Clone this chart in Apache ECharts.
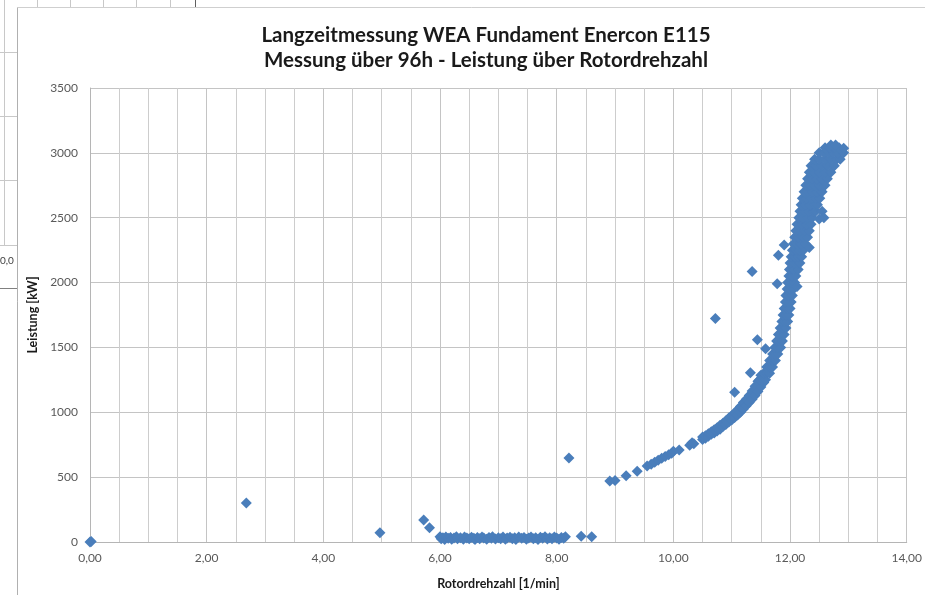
<!DOCTYPE html>
<html>
<head>
<meta charset="utf-8">
<script src="https://cdn.jsdelivr.net/npm/echarts@6/dist/echarts.min.js"></script>
<style>
  html, body { margin: 0; padding: 0; background: #fff; }
  #chart { width: 925px; height: 595px; }
</style>
</head>
<body>
<div id="chart"></div>
<script>
// Rotordrehzahl [1/min], Leistung [kW]
const standstill = [[0, 0], [0.02, 4]];

const idleBand = [
  [6.00, 40], [6.02, 25], [6.05, 32], [6.08, 20], [6.10, 38], [6.14, 28], [6.18, 35], [6.20, 22],
  [6.24, 30], [6.28, 40], [6.30, 25], [6.35, 33], [6.40, 22], [6.42, 38], [6.46, 30], [6.50, 25],
  [6.54, 36], [6.58, 28], [6.60, 20], [6.64, 34], [6.68, 26], [6.72, 38], [6.75, 30], [6.80, 22],
  [6.84, 35], [6.88, 28], [6.90, 40], [6.95, 24], [7.00, 32], [7.04, 26], [7.08, 38], [7.12, 22],
  [7.15, 30], [7.20, 36], [7.24, 25], [7.28, 33], [7.30, 20], [7.35, 38], [7.40, 28], [7.44, 34],
  [7.48, 22], [7.52, 30], [7.56, 38], [7.60, 25], [7.64, 32], [7.68, 20], [7.72, 36], [7.76, 28],
  [7.80, 40], [7.84, 24], [7.88, 32], [7.92, 26], [7.96, 38], [8.00, 30], [8.04, 22], [8.08, 35],
  [8.12, 28], [8.15, 40]
];

const rampUp = [
  [8.91, 470], [9.00, 475], [9.19, 510], [9.38, 545], [9.55, 585], [9.62, 600], [9.68, 615],
  [9.74, 630], [9.80, 645], [9.86, 660], [9.92, 672], [9.97, 685], [10.00, 700], [10.10, 710],
  [10.28, 745], [10.32, 765], [10.35, 758], [10.50, 790], [10.50, 810], [10.55, 800], [10.55, 820],
  [10.60, 815], [10.60, 835], [10.65, 830], [10.65, 850], [10.70, 840], [10.70, 865], [10.75, 855],
  [10.75, 880], [10.80, 870], [10.80, 900], [10.85, 890], [10.85, 915], [10.90, 905], [10.90, 935],
  [10.95, 925], [10.95, 955], [11.00, 940], [11.00, 975], [11.05, 960], [11.05, 995], [11.10, 980],
  [11.10, 1020], [11.15, 1000], [11.15, 1045], [11.20, 1025], [11.20, 1075], [11.25, 1050],
  [11.25, 1100], [11.30, 1075], [11.30, 1130], [11.35, 1100], [11.35, 1165], [11.40, 1130],
  [11.40, 1200], [11.45, 1160], [11.45, 1240], [11.50, 1195], [11.50, 1285], [11.55, 1230]
];

const steepRise = [
  [11.48, 1250], [11.53, 1250], [11.58, 1250],
  [11.55, 1300], [11.60, 1300], [11.65, 1300],
  [11.60, 1350], [11.65, 1350], [11.70, 1350],
  [11.65, 1400], [11.70, 1400], [11.75, 1400],
  [11.70, 1450], [11.74, 1450], [11.79, 1450],
  [11.74, 1500], [11.79, 1500], [11.84, 1500],
  [11.77, 1550], [11.82, 1550], [11.87, 1550],
  [11.80, 1600], [11.85, 1600], [11.90, 1600],
  [11.83, 1650], [11.88, 1650], [11.93, 1650],
  [11.86, 1700], [11.91, 1700], [11.96, 1700],
  [11.88, 1750], [11.93, 1750], [11.98, 1750],
  [11.90, 1800], [11.95, 1800], [12.00, 1800],
  [11.92, 1850], [11.97, 1850], [12.02, 1850],
  [11.93, 1900], [11.98, 1900], [12.04, 1900],
  [11.95, 1950], [12.00, 1950], [12.06, 1950],
  [11.96, 2000], [12.02, 2000], [12.08, 2000],
  [11.98, 2050], [12.04, 2050], [12.10, 2050],
  [11.99, 2100], [12.06, 2100], [12.14, 2100],
  [12.00, 2150], [12.07, 2150], [12.14, 2150], [12.17, 2150],
  [12.02, 2200], [12.08, 2200], [12.14, 2200], [12.20, 2200]
];

const fullLoad = [
  [12.04, 2250], [12.10, 2250], [12.16, 2250], [12.23, 2250],
  [12.06, 2300], [12.12, 2300], [12.19, 2300], [12.26, 2300],
  [12.08, 2350], [12.14, 2350], [12.22, 2350], [12.30, 2350],
  [12.10, 2400], [12.17, 2400], [12.25, 2400], [12.33, 2400],
  [12.12, 2450], [12.20, 2450], [12.28, 2450], [12.36, 2450],
  [12.15, 2500], [12.22, 2500], [12.30, 2500], [12.38, 2500],
  [12.17, 2550], [12.24, 2550], [12.32, 2550], [12.40, 2550], [12.44, 2550],
  [12.19, 2600], [12.26, 2600], [12.34, 2600], [12.42, 2600], [12.47, 2600],
  [12.21, 2650], [12.28, 2650], [12.36, 2650], [12.44, 2650], [12.51, 2650],
  [12.24, 2700], [12.30, 2700], [12.38, 2700], [12.46, 2700], [12.55, 2700],
  [12.27, 2750], [12.34, 2750], [12.42, 2750], [12.50, 2750], [12.60, 2750],
  [12.30, 2800], [12.38, 2800], [12.46, 2800], [12.55, 2800], [12.64, 2800],
  [12.33, 2850], [12.41, 2850], [12.50, 2850], [12.60, 2850], [12.70, 2850],
  [12.36, 2900], [12.44, 2900], [12.54, 2900], [12.64, 2900], [12.76, 2900],
  [12.42, 2950], [12.50, 2950], [12.60, 2950], [12.70, 2950], [12.80, 2950], [12.86, 2950],
  [12.50, 3000], [12.58, 3000], [12.66, 3000], [12.74, 3000], [12.82, 3000], [12.92, 3000],
  [12.60, 3040], [12.68, 3040], [12.76, 3040], [12.84, 3040], [12.92, 3035],
  [12.70, 3060], [12.78, 3060]
];

const outliers = [
  [2.68, 300], [4.97, 72], [5.72, 170], [5.82, 110], [8.21, 648], [8.42, 45], [8.60, 40],
  [10.72, 1723], [11.35, 2085], [11.05, 1155], [11.32, 1305], [11.44, 1560], [11.58, 1490],
  [11.78, 1990], [11.80, 2210], [11.90, 2290], [12.12, 1970], [12.33, 2270],
  [12.50, 2490], [12.55, 2550], [12.58, 2500]
];

const titleLines = [
  'Langzeitmessung WEA Fundament Enercon E115',
  'Messung über 96h - Leistung über Rotordrehzahl'
];

const fmtComma = (v) => v.toFixed(2).replace('.', ',');

const chart = echarts.init(document.getElementById('chart'));

// Tabellenreste links neben dem Diagramm
const sheetLine = (x1, y1, x2, y2, color) => ({
  type: 'line',
  silent: true,
  shape: { x1, y1, x2, y2 },
  style: { stroke: color || '#c8c8c8', lineWidth: 1 }
});

chart.setOption({
  backgroundColor: '#fff',
  animation: false,
  title: {
    text: titleLines.join('\n'),
    left: 481,
    top: 18,
    textAlign: 'center',
    textStyle: {
      fontFamily: 'Lato',
      fontWeight: 'bold',
      fontSize: 20.5,
      lineHeight: 25,
      color: '#1a1a1a'
    }
  },
  grid: { left: 90, right: 15, top: 88, bottom: 52 },
  xAxis: {
    type: 'value',
    min: 0,
    max: 14,
    interval: 2,
    name: 'Rotordrehzahl [1/min]',
    nameLocation: 'middle',
    nameGap: 35,
    nameTextStyle: { fontFamily: 'Lato', fontWeight: 'bold', fontSize: 12.5, color: '#1a1a1a' },
    axisLine: { show: true, lineStyle: { color: '#b5b5b5' } },
    axisTick: { show: false },
    axisLabel: {
      formatter: fmtComma,
      fontFamily: 'Lato',
      fontSize: 12,
      color: '#595959',
      margin: 10
    },
    splitLine: { show: true, lineStyle: { color: '#c4c4c4' } },
    minorTick: { show: false, splitNumber: 4 },
    minorSplitLine: { show: true, lineStyle: { color: '#cdcdcd' } }
  },
  yAxis: {
    type: 'value',
    min: 0,
    max: 3500,
    interval: 500,
    name: 'Leistung [kW]',
    nameLocation: 'middle',
    nameGap: 46,
    nameTextStyle: { fontFamily: 'Lato', fontWeight: 'bold', fontSize: 12.5, color: '#1a1a1a' },
    axisLine: { show: true, lineStyle: { color: '#b5b5b5' } },
    axisTick: { show: false },
    axisLabel: {
      formatter: (v) => String(v),
      fontFamily: 'Lato',
      fontSize: 12,
      color: '#595959',
      margin: 12
    },
    splitLine: { show: true, lineStyle: { color: '#c4c4c4' } }
  },
  series: [
    {
      type: 'scatter',
      symbol: 'diamond',
      symbolSize: 11,
      itemStyle: { color: '#4a7ebb', opacity: 1 },
      data: [].concat(standstill, idleBand, rampUp, steepRise, fullLoad, outliers)
    }
  ],
  graphic: [
    sheetLine(17.5, 7.5, 925, 7.5, '#cfcfcf'),
    sheetLine(17.5, 7.5, 17.5, 595, '#b0b0b0'),
    sheetLine(4.5, 0, 4.5, 245),
    sheetLine(0, 52.5, 17, 52.5),
    sheetLine(0, 116.5, 17, 116.5),
    sheetLine(0, 180.5, 17, 180.5),
    sheetLine(0, 245.5, 17, 245.5),
    sheetLine(0, 288.5, 17, 288.5, '#808080'),
    sheetLine(37.5, 0, 37.5, 7),
    sheetLine(70.5, 0, 70.5, 7),
    sheetLine(103.5, 0, 103.5, 7),
    sheetLine(136.5, 0, 136.5, 7),
    sheetLine(170.5, 0, 170.5, 7),
    sheetLine(195.5, 0, 195.5, 7, '#606060'),
    {
      type: 'text',
      silent: true,
      left: 0,
      top: 256,
      style: { text: '0,0', fontFamily: 'Lato', fontSize: 10, fill: '#404040' }
    }
  ]
});
</script>
</body>
</html>
